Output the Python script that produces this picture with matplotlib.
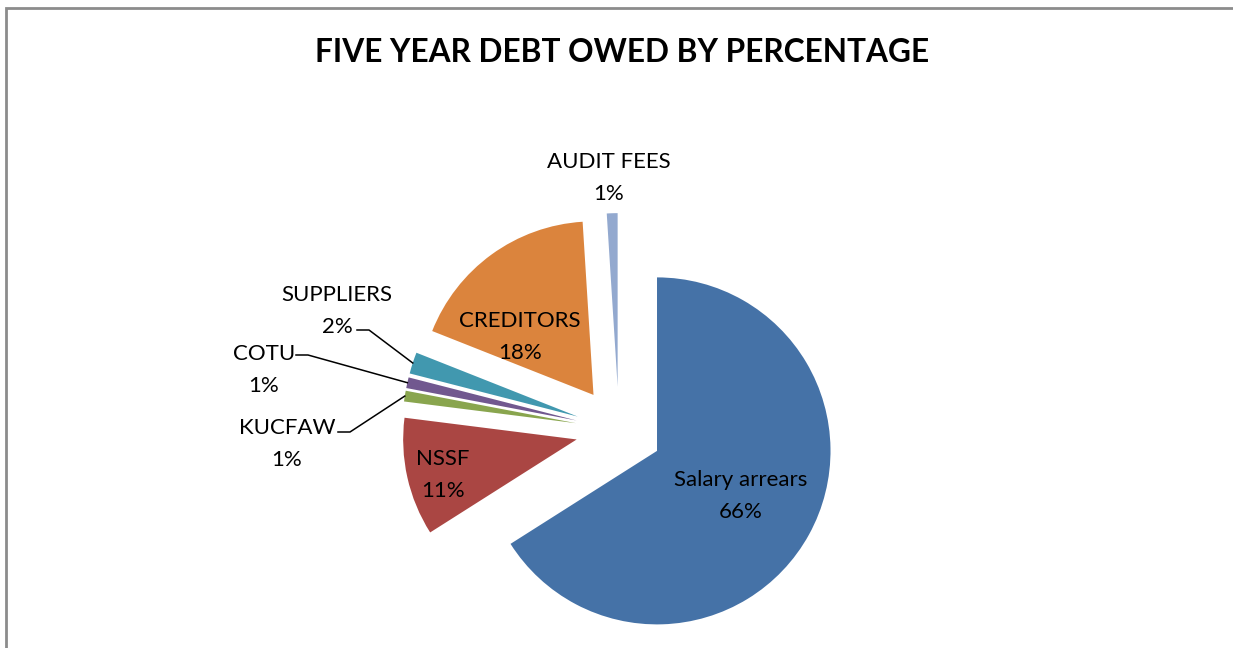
import math

import matplotlib

matplotlib.use("Agg")
import matplotlib.pyplot as plt
from matplotlib.patches import Rectangle

W, H = 1233, 648

# debt categories, clockwise from 12 o'clock
categories = ["Salary arrears", "NSSF", "KUCFAW", "COTU", "SUPPLIERS", "CREDITORS", "AUDIT FEES"]
shares = [66, 11, 1, 1, 2, 18, 1]
colors = ["#4572A7", "#AA4643", "#89A54E", "#71588F", "#4198AF", "#DB843D", "#93A9CF"]

# layout in pixels (x from left, y from top)
CENTER = (619, 430)
RADIUS = 173.5
EXPLODE = 0.25  # fraction of radius each slice is pulled out

# label anchor (centre of the two-line block)
label_pos = {
    "Salary arrears": (741, 496),
    "NSSF": (443, 475),
    "KUCFAW": (287, 444),
    "COTU": (264, 370),
    "SUPPLIERS": (337, 311),
    "CREDITORS": (520, 337),
    "AUDIT FEES": (609, 178),
}
# leader lines: (start x, y) of the short horizontal stub
leaders = {
    "SUPPLIERS": (357, 330),
    "COTU": (296, 355),
    "KUCFAW": (338, 432),
}


def px(x, y):
    return x, H - y


plt.rcParams["font.family"] = ["Lato", "DejaVu Sans"]

fig = plt.figure(figsize=(W / 100, H / 100), dpi=100)
ax = fig.add_axes([0, 0, 1, 1])

wedges, _ = ax.pie(
    shares,
    colors=colors,
    startangle=90,
    counterclock=False,
    center=px(*CENTER),
    radius=RADIUS,
    explode=[EXPLODE * RADIUS] * len(shares),
    wedgeprops=dict(linewidth=0),
)
ax.set_xlim(0, W)
ax.set_ylim(0, H)
ax.set_aspect("equal")
ax.axis("off")

for name, share, w in zip(categories, shares, wedges):
    lx, ly = label_pos[name]
    ax.text(*px(lx, ly), f"{name}\n{share}%", ha="center", va="center",
            fontsize=16, linespacing=1.7, color="black")
    if name in leaders:
        sx, sy = leaders[name]
        mid = math.radians((w.theta1 + w.theta2) / 2)
        ex = w.center[0] + w.r * math.cos(mid)
        ey = w.center[1] + w.r * math.sin(mid)
        x0, y0 = px(sx, sy)
        ax.plot([x0, x0 + 12, ex], [y0, y0, ey], color="black", lw=1.1)

fig.text(622 / W, 1 - 52 / H, "FIVE YEAR DEBT OWED BY PERCENTAGE", ha="center", va="center",
         fontsize=22.8, fontweight="bold")

# chart border (only top and left edges fall inside the image)
fig.patches.append(Rectangle((6 / W, -0.1), 1.2, 1 - 8 / H + 0.1, transform=fig.transFigure,
                             fill=False, edgecolor="#8c8c8c", linewidth=2))

fig.savefig("out.png", dpi=100)
